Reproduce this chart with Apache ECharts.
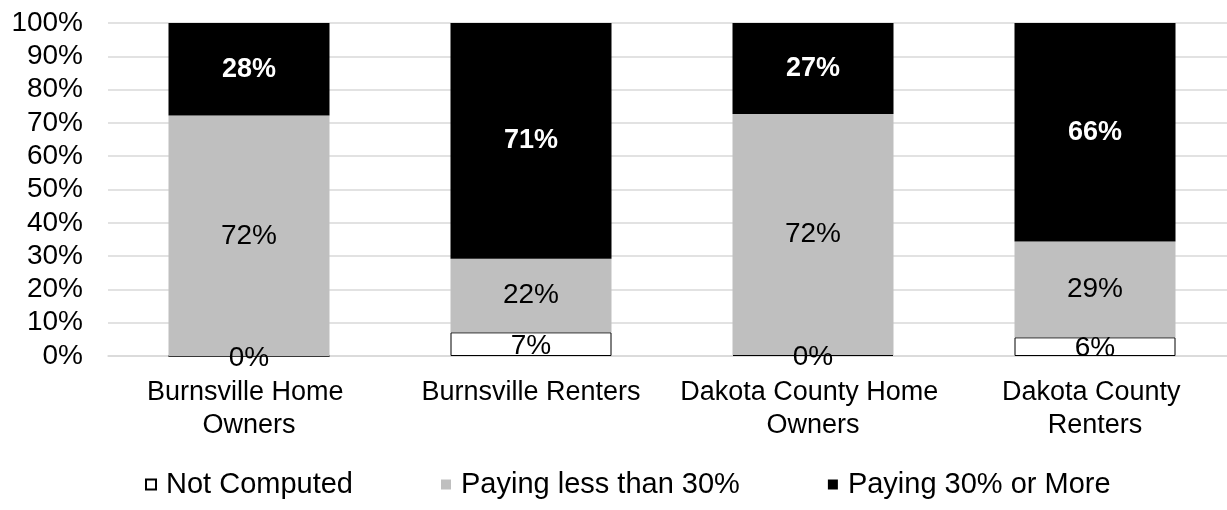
<!DOCTYPE html>
<html>
<head>
<meta charset="utf-8">
<script src="https://cdn.jsdelivr.net/npm/echarts@6/dist/echarts.min.js"></script>
<style>
  html, body { margin: 0; padding: 0; background: #fff; overflow: hidden; }
  /* a bit wider than the window: the original plot is cropped on the right */
  #chart { width: 1236px; height: 510px; }
</style>
</head>
<body>
<div id="chart"></div>
<script>
  // categories and shares (percent of households)
  let categories = ['Burnsville Home Owners', 'Burnsville Renters', 'Dakota County Home Owners', 'Dakota County Renters'];
  let notComputed = [0, 7.1, 0.3, 5.6];
  let payingLess = [72.2, 22.1, 72.4, 28.8];
  let payingMore = [27.8, 70.8, 27.3, 65.6];

  let font = '"Liberation Sans", Arial, sans-serif';
  let pct = function (p) { return Math.round(p.value) + '%'; };

  let chart = echarts.init(document.getElementById('chart'));

  let option = {
    animation: false,
    textStyle: { fontFamily: font },
    grid: { left: 108, right: 0, top: 23, bottom: 154 },
    legend: {
      left: 145,
      top: 470,
      padding: 0,
      itemWidth: 10,
      itemHeight: 10,
      itemGap: 88,
      icon: 'rect',
      textStyle: { fontSize: 29, color: '#000', fontFamily: font, padding: [0, 0, 0, 5] },
      data: ['Not Computed', 'Paying less than 30%', 'Paying 30% or More']
    },
    xAxis: {
      type: 'category',
      data: categories,
      axisTick: { show: false },
      axisLine: { lineStyle: { color: '#d9d9d9', width: 1.5 } },
      axisLabel: {
        color: '#000',
        fontSize: 27,
        lineHeight: 33,
        margin: 20,
        width: 270,
        overflow: 'break',
        interval: 0
      }
    },
    yAxis: {
      type: 'value',
      min: 0,
      max: 100,
      interval: 10,
      axisLabel: { formatter: '{value}%', color: '#000', fontSize: 28, margin: 25 },
      splitLine: { lineStyle: { color: '#d9d9d9', width: 1.5 } }
    },
    series: [
      {
        name: 'Not Computed',
        type: 'bar',
        stack: 'total',
        barWidth: 161,
        data: notComputed,
        itemStyle: { color: '#fff', borderColor: '#000', borderWidth: 1 },
        label: { show: true, position: 'inside', offset: [0, 2], formatter: pct, color: '#000', fontSize: 28 }
      },
      {
        name: 'Paying less than 30%',
        type: 'bar',
        stack: 'total',
        barWidth: 161,
        data: payingLess,
        itemStyle: { color: '#bfbfbf' },
        label: { show: true, position: 'inside', formatter: pct, color: '#000', fontSize: 28 }
      },
      {
        name: 'Paying 30% or More',
        type: 'bar',
        stack: 'total',
        barWidth: 161,
        data: payingMore,
        itemStyle: { color: '#000' },
        label: { show: true, position: 'inside', formatter: pct, color: '#fff', fontSize: 27, fontWeight: 'bold' }
      }
    ]
  };

  chart.setOption(option);
</script>
</body>
</html>
